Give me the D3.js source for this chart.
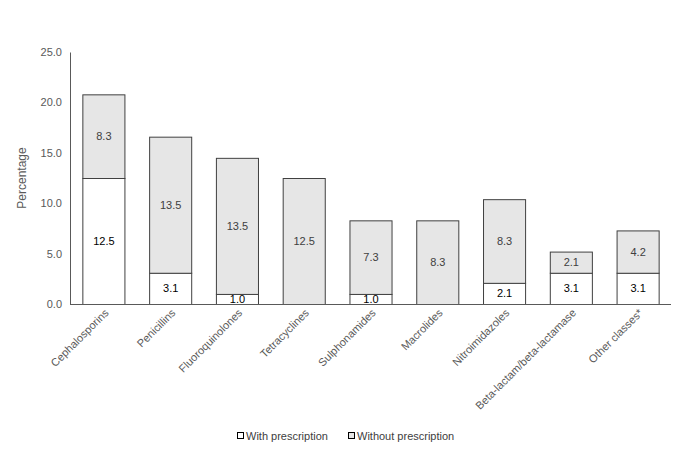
<!DOCTYPE html>
<html><head><meta charset="utf-8">
<script src="https://cdn.jsdelivr.net/npm/d3@7"></script>
<style>body{margin:0;background:#fff;font-family:"Liberation Sans",Arial,sans-serif;}</style>
</head><body><svg id="c" width="685" height="452"></svg>
<script>
const categories = ["Cephalosporins","Penicillins","Fluoroquinolones","Tetracyclines","Sulphonamides","Macrolides","Nitroimidazoles","Beta-lactam/beta-lactamase","Other classes*"];
const withPrescription = [12.5,3.1,1.0,0,1.0,0,2.1,3.1,3.1];
const withoutPrescription = [8.3,13.5,13.5,12.5,7.3,8.3,8.3,2.1,4.2];
const yTicks = [0,5,10,15,20,25];
const seriesNames = ["With prescription","Without prescription"];

const svg = d3.select("#c");
const m = {l:70, r:14, t:52, b:148};
const W = 685, H = 452;
const x = d3.scaleBand().domain(categories).range([m.l, W - m.r]).paddingInner(0.37).paddingOuter(0.185);
const y = d3.scaleLinear().domain([0,25]).range([H - m.b, m.t]);
const fills = ["#ffffff","#e6e6e6"];
const stroke = "#404040";

// y axis
const ya = svg.append("g").attr("transform",`translate(${m.l},0)`)
  .call(d3.axisLeft(y).tickValues(yTicks).tickFormat(d3.format(".1f")).tickSize(0).tickPadding(8));
ya.select(".domain").attr("stroke","#595959");
ya.selectAll("text").attr("fill","#595959").style("font-size","11px").style("font-family","Liberation Sans, Arial, sans-serif");

// bars
const data = categories.map((c,i)=>({c, a:withPrescription[i], b:withoutPrescription[i]}));
const g = svg.append("g");
data.forEach(d=>{
  const segs = [{v0:0,v1:d.a,s:0},{v0:d.a,v1:d.a+d.b,s:1}];
  segs.forEach(s=>{
    if (s.v1 - s.v0 <= 0) return;
    g.append("rect").attr("x",x(d.c)+0.5).attr("width",x.bandwidth())
      .attr("y",y(s.v1)+0.5).attr("height",y(s.v0)-y(s.v1))
      .attr("fill",fills[s.s]).attr("stroke",stroke).attr("stroke-width",1);
    g.append("text").attr("x",x(d.c)+x.bandwidth()/2+0.5).attr("y",(y(s.v0)+y(s.v1))/2)
      .attr("dy","0.36em").attr("text-anchor","middle")
      .attr("fill", s.s===0 ? "#000" : "#404040").style("font-size","11px")
      .text((s.v1-s.v0).toFixed(1));
  });
});

// x axis
const xa = svg.append("g").attr("transform",`translate(0,${y(0)+0.5})`)
  .call(d3.axisBottom(x).tickSize(0).tickPadding(0));
xa.select(".domain").attr("stroke","#595959").attr("d",`M${m.l},0H${W-m.r}`);
xa.selectAll("text").attr("fill","#595959").style("font-size","11px")
  .attr("text-anchor","end").attr("dy",0).attr("y",0)
  .attr("transform","translate(6,9) rotate(-45)");

// y title
svg.append("text").attr("transform",`translate(26,${(y(0)+y(25))/2}) rotate(-90)`)
  .attr("text-anchor","middle").attr("fill","#595959").style("font-size","12px").text("Percentage");

// legend
const lg = svg.append("g").attr("transform","translate(237,436)");
const lx = [0,111];
seriesNames.forEach((n,i)=>{
  lg.append("rect").attr("x",lx[i]+0.5).attr("y",-3.5).attr("width",6).attr("height",6)
    .attr("fill",fills[i]).attr("stroke","#000").attr("stroke-width",1);
  lg.append("text").attr("x",lx[i]+9).attr("y",0).attr("dy","0.36em")
    .attr("fill","#404040").style("font-size","11px").text(n);
});
</script></body></html>
